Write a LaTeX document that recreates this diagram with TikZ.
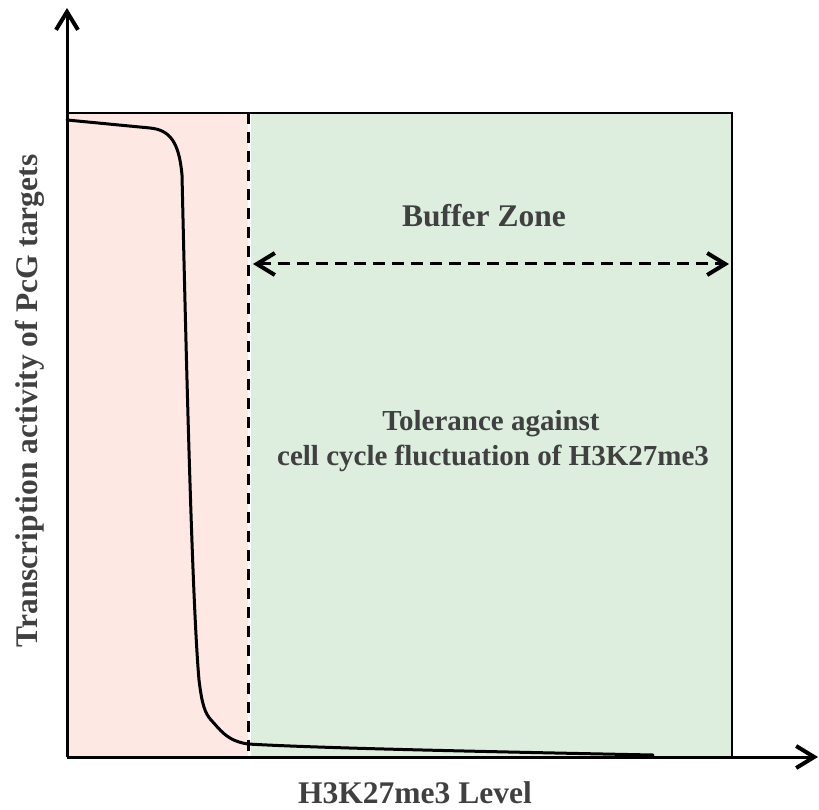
\documentclass[tikz,border=0pt]{standalone}
\usepackage{fontspec}
\setmainfont{Liberation Serif}
\usetikzlibrary{arrows.meta}

\definecolor{lowzone}{HTML}{FDE8E4}
\definecolor{bufzone}{HTML}{DDEEDF}
\definecolor{labelgray}{HTML}{404040}

\tikzset{
  axisline/.style={line width=3pt, -{Straight Barb[length=18pt,width=22pt,line width=4pt]}},
  framebox/.style={line width=2.5pt},
  curveline/.style={line width=3pt, line cap=round, line join=round},
  bufferarrow/.style={line width=3pt, dash pattern=on 12pt off 7pt,
    {Straight Barb[length=18pt,width=22pt,line width=4pt]}-{Straight Barb[length=18pt,width=22pt,line width=4pt]}},
  splitline/.style={line width=3pt, dash pattern=on 11pt off 8pt},
  lbl/.style={text=labelgray, font=\bfseries\fontsize{31.5}{35}\selectfont, inner sep=0pt, anchor=base},
  smalllbl/.style={lbl, font=\bfseries\fontsize{29}{33}\selectfont}
}

\begin{document}
\begin{tikzpicture}[x=1pt,y=-1pt]
  \useasboundingbox (0,0) rectangle (819,810);

  % shaded regions
  \fill[lowzone] (67,113) rectangle (248,757);
  \fill[bufzone] (251,113) rectangle (732,757);

  % frame
  \coordinate (o) at (67,757);
  \coordinate (tl) at (67,113);
  \coordinate (tr) at (732,113);
  \coordinate (br) at (732,757);
  \draw[framebox] (tl) -- (tr) -- (br);

  % boundary between regions
  \coordinate (sTop) at (248,113);
  \coordinate (sBot) at (248,757);
  \draw[splitline] (sTop) -- (sBot);

  % axes
  \coordinate (yEnd) at (67,8);
  \coordinate (xEnd) at (818,757);
  \draw[axisline] (o) -- (yEnd);
  \draw[axisline] (o) -- (xEnd);

  % response curve
  \draw[curveline] (67,120) -- (150,128)
    .. controls (170,130) and (179,142) .. (182,175)
    .. controls (186,350) and (192,600) .. (199,680)
    .. controls (202,705) and (205,713) .. (211,720)
    .. controls (219,728) and (226,741) .. (248,744)
    .. controls (300,747) and (400,750) .. (653,755);

  % buffer zone span
  \coordinate (bzL) at (253,264);
  \coordinate (bzR) at (729,264);
  \draw[bufferarrow] (bzL) -- (bzR);

  % labels
  \node[lbl] (buffer) at (484,227) {Buffer Zone};
  \node[smalllbl] (tol1) at (491,430) {Tolerance against};
  \node[smalllbl] (tol2) at (493,465) {cell cycle fluctuation of H3K27me3};
  \node[lbl] (xlabel) at (415,803) {H3K27me3 Level};
  \node[lbl, rotate=90] (ylabel) at (37,401) {Transcription activity of PcG targets};
\end{tikzpicture}
\end{document}
